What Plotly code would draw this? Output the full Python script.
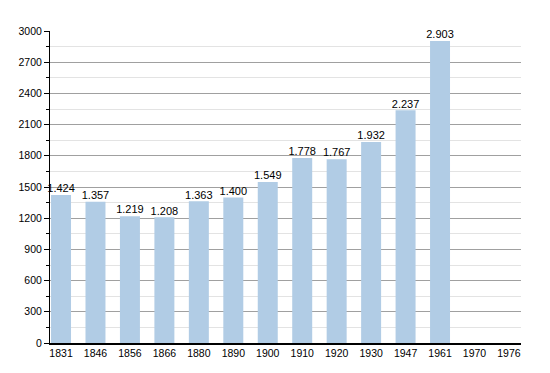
import plotly.graph_objects as go

years = ["1831", "1846", "1856", "1866", "1880", "1890", "1900", "1910", "1920", "1930", "1947", "1961", "1970", "1976"]
population = [1424, 1357, 1219, 1208, 1363, 1400, 1549, 1778, 1767, 1932, 2237, 2903, None, None]
labels = ["1.424", "1.357", "1.219", "1.208", "1.363", "1.400", "1.549", "1.778", "1.767", "1.932", "2.237", "2.903", "", ""]
y_ticks = [0, 300, 600, 900, 1200, 1500, 1800, 2100, 2400, 2700, 3000]

FONT = "Liberation Sans, Arial, sans-serif"

fig = go.Figure()
fig.add_trace(go.Bar(
    x=years, y=population,
    marker=dict(color="#b1cce5", line=dict(width=0)),
    hoverinfo="x+y",
))
fig.add_trace(go.Scatter(
    x=years, y=population, text=labels, mode="text", textposition="top center",
    textfont=dict(size=11, color="#000000", family=FONT),
    cliponaxis=False, hoverinfo="skip",
))
fig.update_layout(
    width=542, height=365,
    margin=dict(l=42, r=29, t=23, b=30, autoexpand=False),
    plot_bgcolor="white", paper_bgcolor="white",
    bargap=0.42,
    showlegend=False,
    font=dict(family=FONT, size=10, color="#000000"),
)
fig.update_xaxes(
    type="category", range=[-0.32, 13.35], showline=True, linecolor="#000000", linewidth=1.5,
    ticks="", showgrid=False, tickfont=dict(size=10.5), automargin=False,
)
fig.update_yaxes(
    range=[0, 3000], tickvals=y_ticks, showline=True, linecolor="#000000", linewidth=1,
    ticks="outside", ticklen=5, tickcolor="#000000",
    showgrid=True, gridcolor="#a0a0a0", gridwidth=1,
    zeroline=False, tickfont=dict(size=10.5), automargin=False,
    minor=dict(dtick=150, tick0=0, showgrid=True, gridcolor="#e3e3e3", gridwidth=1,
               ticks="outside", ticklen=3, tickcolor="#000000"),
)
fig.write_html("out.html")
